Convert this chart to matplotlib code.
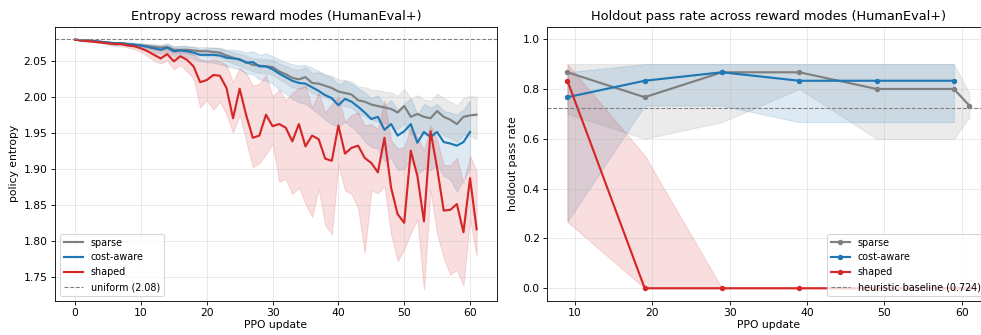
import matplotlib
matplotlib.use("Agg")
import matplotlib.pyplot as plt
import numpy as np

# ---------------- data: entropy per PPO update ----------------
updates_sparse = list(range(0, 62))
updates_cost = list(range(0, 61))
updates_shaped = list(range(0, 62))

sparse_mean = [2.079, 2.078, 2.078, 2.077, 2.076, 2.075, 2.074, 2.074, 2.073, 2.072,
               2.071, 2.070, 2.069, 2.068, 2.069, 2.065, 2.065, 2.065, 2.064, 2.063,
               2.063, 2.062, 2.061, 2.057, 2.054, 2.051, 2.048, 2.044, 2.043, 2.042,
               2.041, 2.035, 2.031, 2.026, 2.024, 2.027, 2.019, 2.018, 2.015, 2.012,
               2.007, 2.005, 2.003, 1.995, 1.993, 1.989, 1.987, 1.985, 1.983, 1.978,
               1.987, 1.972, 1.976, 1.972, 1.970, 1.980, 1.972, 1.968, 1.962, 1.972,
               1.974, 1.975]
sparse_lo = [2.079, 2.077, 2.077, 2.076, 2.075, 2.074, 2.072, 2.072, 2.071, 2.070,
             2.068, 2.067, 2.065, 2.064, 2.065, 2.060, 2.060, 2.060, 2.058, 2.057,
             2.056, 2.055, 2.054, 2.050, 2.046, 2.043, 2.039, 2.035, 2.033, 2.032,
             2.030, 2.024, 2.019, 2.013, 2.011, 2.013, 2.005, 2.002, 1.999, 1.995,
             1.990, 1.987, 1.985, 1.976, 1.973, 1.968, 1.965, 1.963, 1.960, 1.955,
             1.963, 1.947, 1.950, 1.948, 1.945, 1.955, 1.946, 1.943, 1.937, 1.947,
             1.946, 1.941]
sparse_hi = [2.079, 2.079, 2.078, 2.078, 2.077, 2.076, 2.076, 2.075, 2.075, 2.074,
             2.074, 2.073, 2.073, 2.072, 2.073, 2.070, 2.070, 2.070, 2.069, 2.069,
             2.069, 2.068, 2.068, 2.064, 2.062, 2.059, 2.057, 2.053, 2.053, 2.052,
             2.051, 2.046, 2.043, 2.039, 2.037, 2.041, 2.033, 2.034, 2.031, 2.029,
             2.024, 2.023, 2.021, 2.014, 2.013, 2.010, 2.009, 2.007, 2.006, 2.001,
             2.011, 1.997, 2.002, 1.996, 1.994, 2.004, 1.998, 1.993, 1.988, 1.998,
             2.001, 2.000]

cost_mean = [2.079, 2.078, 2.078, 2.077, 2.076, 2.075, 2.074, 2.074, 2.073, 2.072,
             2.071, 2.069, 2.067, 2.065, 2.068, 2.063, 2.064, 2.063, 2.061, 2.058,
             2.058, 2.058, 2.057, 2.054, 2.053, 2.052, 2.047, 2.048, 2.042, 2.042,
             2.038, 2.032, 2.027, 2.022, 2.019, 2.018, 2.013, 2.008, 2.002, 1.998,
             1.988, 1.997, 1.993, 1.986, 1.978, 1.969, 1.972, 1.954, 1.962, 1.946,
             1.952, 1.962, 1.936, 1.951, 1.944, 1.951, 1.937, 1.935, 1.932, 1.937,
             1.951]
cost_lo = [2.079, 2.077, 2.077, 2.076, 2.075, 2.073, 2.072, 2.072, 2.070, 2.069,
           2.067, 2.065, 2.062, 2.059, 2.062, 2.056, 2.057, 2.055, 2.052, 2.049,
           2.048, 2.047, 2.045, 2.042, 2.040, 2.038, 2.032, 2.031, 2.024, 2.022,
           2.018, 2.010, 2.004, 1.997, 1.992, 1.990, 1.983, 1.976, 1.968, 1.962,
           1.958, 1.965, 1.958, 1.950, 1.938, 1.930, 1.928, 1.910, 1.915, 1.898,
           1.900, 1.912, 1.892, 1.900, 1.898, 1.905, 1.890, 1.885, 1.868, 1.885,
           1.900]
cost_hi = [2.079, 2.079, 2.079, 2.078, 2.077, 2.077, 2.076, 2.076, 2.075, 2.075,
           2.074, 2.073, 2.072, 2.071, 2.074, 2.069, 2.071, 2.070, 2.069, 2.066,
           2.067, 2.068, 2.067, 2.065, 2.065, 2.064, 2.061, 2.063, 2.058, 2.060,
           2.056, 2.052, 2.048, 2.045, 2.043, 2.044, 2.040, 2.036, 2.030, 2.027,
           2.016, 2.022, 2.018, 2.012, 2.006, 1.998, 2.002, 1.988, 1.995, 1.982,
           1.990, 1.998, 1.975, 1.990, 1.985, 1.990, 1.980, 1.978, 1.975, 1.982,
           1.995]

shaped_mean = [2.079, 2.078, 2.077, 2.076, 2.075, 2.074, 2.073, 2.073, 2.071, 2.070,
               2.067, 2.063, 2.058, 2.053, 2.059, 2.049, 2.056, 2.051, 2.042, 2.020,
               2.023, 2.030, 2.029, 2.012, 1.970, 2.011, 1.974, 1.943, 1.946, 1.975,
               1.959, 1.962, 1.957, 1.938, 1.962, 1.931, 1.946, 1.941, 1.914, 1.911,
               1.960, 1.921, 1.929, 1.932, 1.915, 1.908, 1.895, 1.943, 1.874, 1.837,
               1.825, 1.925, 1.890, 1.827, 1.952, 1.901, 1.842, 1.843, 1.851, 1.812,
               1.887, 1.816]
shaped_lo = [2.079, 2.077, 2.076, 2.075, 2.074, 2.072, 2.071, 2.070, 2.068, 2.066,
             2.062, 2.056, 2.050, 2.046, 2.050, 2.038, 2.044, 2.035, 2.025, 1.985,
             1.995, 1.982, 1.993, 1.975, 1.950, 1.975, 1.938, 1.902, 1.908, 1.920,
             1.935, 1.882, 1.886, 1.865, 1.874, 1.851, 1.833, 1.872, 1.822, 1.809,
             1.905, 1.870, 1.865, 1.845, 1.783, 1.870, 1.866, 1.876, 1.809, 1.772,
             1.788, 1.811, 1.830, 1.732, 1.870, 1.810, 1.776, 1.753, 1.760, 1.738,
             1.830, 1.779]
shaped_hi = [2.079, 2.079, 2.078, 2.077, 2.076, 2.076, 2.075, 2.075, 2.074, 2.073,
             2.071, 2.068, 2.066, 2.064, 2.066, 2.062, 2.063, 2.062, 2.058, 2.052,
             2.050, 2.052, 2.050, 2.044, 2.020, 2.040, 2.032, 2.015, 2.018, 2.030,
             2.000, 2.010, 1.995, 2.005, 2.012, 2.015, 1.985, 2.005, 1.978, 1.990,
             2.000, 1.965, 1.975, 1.978, 1.960, 1.962, 1.955, 1.995, 1.940, 1.928,
             1.930, 1.958, 1.945, 1.925, 1.960, 1.940, 1.905, 1.905, 1.915, 1.880,
             1.918, 1.897]

uniform_entropy = 2.0794

# ---------------- data: holdout pass rate ----------------
eval_sparse = [9, 19, 29, 39, 49, 59, 61]
pass_sparse = [0.867, 0.767, 0.867, 0.867, 0.800, 0.800, 0.733]
pass_sparse_lo = [0.700, 0.600, 0.667, 0.800, 0.600, 0.600, 0.687]
pass_sparse_hi = [0.900, 0.900, 0.900, 0.900, 0.900, 0.900, 0.783]

eval_cost = [9, 19, 29, 39, 49, 59]
pass_cost = [0.767, 0.833, 0.867, 0.833, 0.833, 0.833]
pass_cost_lo = [0.267, 0.733, 0.733, 0.667, 0.667, 0.667]
pass_cost_hi = [0.867, 0.900, 0.900, 0.900, 0.900, 0.900]

eval_shaped = [9, 19, 29, 39, 49, 59, 61]
pass_shaped = [0.833, 0.0, 0.0, 0.0, 0.0, 0.0, 0.0]
pass_shaped_lo = [0.267, 0.0, 0.0, 0.0, 0.0, 0.0, 0.0]
pass_shaped_hi = [0.900, 0.533, 0.0, 0.0, 0.0, 0.0, 0.0]

heuristic_baseline = 0.724

modes = ["sparse", "cost-aware", "shaped"]
colors = {"sparse": "tab:gray", "cost-aware": "tab:blue", "shaped": "tab:red"}

# ---------------- figure ----------------
W, H = 981, 335
DPI = 77.3
fig = plt.figure(figsize=(W / DPI, H / DPI), dpi=DPI)
ax1 = fig.add_axes([55 / W, 1 - 300.7 / H, 441.7 / W, 274 / H])
ax2 = fig.add_axes([547.3 / W, 1 - 300.7 / H, 442.2 / W, 274 / H])

ent = {
    "sparse": (updates_sparse, sparse_mean, sparse_lo, sparse_hi),
    "cost-aware": (updates_cost, cost_mean, cost_lo, cost_hi),
    "shaped": (updates_shaped, shaped_mean, shaped_lo, shaped_hi),
}
for m in modes:
    x, y, lo, hi = ent[m]
    ax1.fill_between(x, lo, hi, color=colors[m], alpha=0.15)
    ax1.plot(x, y, color=colors[m], lw=2, label=m)
ax1.axhline(uniform_entropy, color="gray", ls="--", lw=1,
            label=f"uniform ({uniform_entropy:.2f})")
ax1.set_ylim(1.717, 2.097)
ax1.set_xlabel("PPO update", labelpad=2)
ax1.set_ylabel("policy entropy")
ax1.set_title("Entropy across reward modes (HumanEval+)")
ax1.grid(alpha=0.3)
ax1.legend(loc="lower left", fontsize=9)

pr = {
    "sparse": (eval_sparse, pass_sparse, pass_sparse_lo, pass_sparse_hi),
    "cost-aware": (eval_cost, pass_cost, pass_cost_lo, pass_cost_hi),
    "shaped": (eval_shaped, pass_shaped, pass_shaped_lo, pass_shaped_hi),
}
for m in modes:
    x, y, lo, hi = pr[m]
    ax2.fill_between(x, lo, hi, color=colors[m], alpha=0.15)
    ax2.plot(x, y, color=colors[m], lw=2, marker="o", ms=4, label=m)
ax2.axhline(heuristic_baseline, color="gray", ls="--", lw=1,
            label=f"heuristic baseline ({heuristic_baseline:.3f})")
ax2.set_ylim(-0.05, 1.05)
ax2.set_xlabel("PPO update", labelpad=2)
ax2.set_ylabel("holdout pass rate")
ax2.set_title("Holdout pass rate across reward modes (HumanEval+)")
ax2.grid(alpha=0.3)
ax2.legend(loc="lower right", fontsize=9)

fig.savefig("out.png", dpi=DPI)
